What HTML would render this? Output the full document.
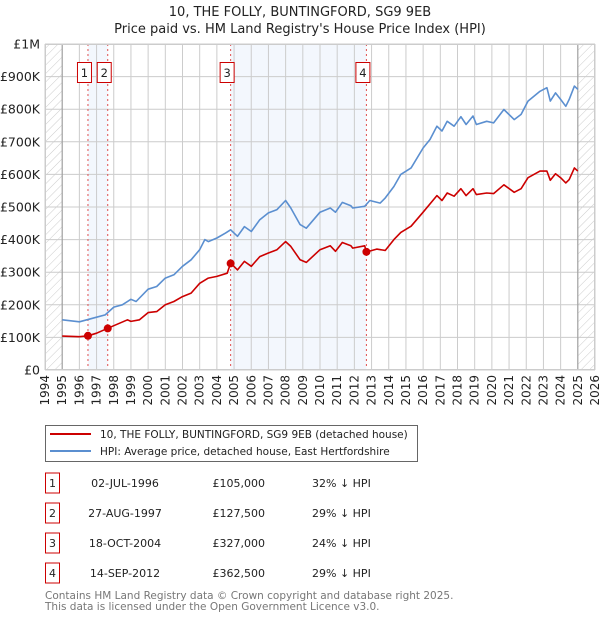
<!DOCTYPE html>
<html><head><meta charset="utf-8"><style>
body{margin:0;background:#fff;font-family:"Liberation Sans","DejaVu Sans",sans-serif;}
</style></head><body>
<svg id="c" width="600" height="620" xmlns="http://www.w3.org/2000/svg" font-family="DejaVu Sans, Liberation Sans, sans-serif">
<defs><pattern id="hatch" width="6" height="6" patternUnits="userSpaceOnUse" patternTransform="rotate(45)"><line x1="0" y1="0" x2="0" y2="6" stroke="#ccc" stroke-width="1"/></pattern></defs>
<text x="300" y="16" text-anchor="middle" font-size="13" fill="#222">10, THE FOLLY, BUNTINGFORD, SG9 9EB</text>
<text x="300" y="33" text-anchor="middle" font-size="13" fill="#222">Price paid vs. HM Land Registry's House Price Index (HPI)</text>
<g id="plot"></g>
<g>
<rect x="45.5" y="425.5" width="372" height="36" fill="#fff" stroke="#666"/>
<line x1="50" y1="434" x2="91" y2="434" stroke="#cc0000" stroke-width="2"/>
<text x="100" y="438" font-size="10.5" fill="#222">10, THE FOLLY, BUNTINGFORD, SG9 9EB (detached house)</text>
<line x1="50" y1="451" x2="91" y2="451" stroke="#5b8fd0" stroke-width="2"/>
<text x="100" y="455" font-size="10.5" fill="#222">HPI: Average price, detached house, East Hertfordshire</text>
</g>
<g id="table" font-size="11" fill="#222"></g>
<text x="45" y="599" font-size="10.5" fill="#777">Contains HM Land Registry data © Crown copyright and database right 2025.</text>
<text x="45" y="610" font-size="10.5" fill="#777">This data is licensed under the Open Government Licence v3.0.</text>
</svg>
<script>
const hpiYears=[1995,1996,1997,1997.5,1998,1998.5,1999,1999.3,2000,2000.5,2001,2001.5,2002,2002.5,2003,2003.3,2003.5,2004,2004.5,2004.8,2005.2,2005.6,2006,2006.5,2007,2007.5,2008,2008.3,2008.84,2009.2,2010,2010.6,2010.9,2011.3,2011.8,2011.9,2012.6,2012.9,2013.5,2013.8,2014.3,2014.7,2015.3,2016,2016.4,2016.8,2017.1,2017.4,2017.8,2018.2,2018.5,2018.9,2019.1,2019.7,2020.1,2020.7,2021.3,2021.7,2022.1,2022.8,2023.2,2023.4,2023.7,2024,2024.3,2024.5,2024.8,2025];
const hpiValues=[154,148,162,169,193,200,217,210,248,256,282,292,318,338,369,400,394,405,420,430,410,440,425,461,482,492,520,497,446,435,484,497,484,514,504,497,502,520,512,528,563,600,620,681,707,748,733,763,748,777,753,779,753,763,758,799,768,784,825,855,866,825,850,830,809,830,871,861];
const propYears=[1995,1996,1996.5,1997,1997.65,1998,1998.8,1999,1999.5,2000,2000.5,2001,2001.5,2002,2002.5,2003,2003.5,2004,2004.6,2004.8,2005.2,2005.6,2006,2006.5,2007,2007.5,2008,2008.3,2008.84,2009.2,2010,2010.6,2010.9,2011.3,2011.8,2011.9,2012.6,2012.7,2013.3,2013.8,2014.3,2014.7,2015.3,2016,2016.8,2017.1,2017.4,2017.8,2018.2,2018.5,2018.9,2019.1,2019.7,2020.1,2020.7,2021.3,2021.7,2022.1,2022.8,2023.2,2023.4,2023.7,2024,2024.3,2024.5,2024.8,2025];
const propValues=[104,102,105,113,128,136,154,149,154,176,179,200,210,225,236,266,282,287,297,328,307,333,318,348,359,369,394,379,338,330,369,381,364,391,381,374,381,362,371,367,400,422,441,484,535,520,543,533,556,535,556,538,543,541,568,545,556,590,610,610,582,602,590,574,584,620,610];
const saleLabels=["1","2","3","4"];
const saleYears=[1996.5,1997.65,2004.8,2012.7];
const saleValues=[105,127.5,327,362.5];
const saleDates=["02-JUL-1996","27-AUG-1997","18-OCT-2004","14-SEP-2012"];
const salePrices=["£105,000","£127,500","£327,000","£362,500"];
const saleDiffs=["32% ↓ HPI","29% ↓ HPI","24% ↓ HPI","29% ↓ HPI"];
const yTicks=[0,100,200,300,400,500,600,700,800,900,1000];
const yTickLabels=["£0","£100K","£200K","£300K","£400K","£500K","£600K","£700K","£800K","£900K","£1M"];
const x0=45,x1=595,y0=370,y1=44,yr0=1994,yr1=2026;
const X=y=>x0+(y-yr0)/(yr1-yr0)*(x1-x0);
const Y=v=>y0-v/1000*(y0-y1);
const NS="http://www.w3.org/2000/svg";
const plot=document.getElementById('plot');
function mk(tag,attrs,parent){const e=document.createElementNS(NS,tag);for(const k in attrs)e.setAttribute(k,attrs[k]);(parent||plot).appendChild(e);return e;}
mk('rect',{x:x0,y:y1,width:x1-x0,height:y0-y1,fill:'#fff'});
let s=mk('rect',{x:X(saleYears[0]),y:y1,width:X(saleYears[1])-X(saleYears[0]),height:y0-y1,fill:'#eef3fc',opacity:0.7});


s=mk('rect',{x:X(saleYears[2]),y:y1,width:X(saleYears[3])-X(saleYears[2]),height:y0-y1,fill:'#eef3fc',opacity:0.7});


s=mk('rect',{x:x0,y:y1,width:X(1995)-x0,height:y0-y1,fill:'url(#hatch)'});


s=mk('rect',{x:X(2025),y:y1,width:x1-X(2025),height:y0-y1,fill:'url(#hatch)'});


for(let yr=yr0;yr<=yr1;yr++){
 const l=mk('line',{x1:X(yr),x2:X(yr),y1:y1,y2:y0,stroke:'#ccc','stroke-width':1});
 
 
 const t=mk('text',{x:0,y:0,'font-size':12,fill:'#222','text-anchor':'end',transform:`translate(${X(yr)+4},${y0+5}) rotate(-90)`});
 t.textContent=yr;
 
 
}
yTicks.forEach((v,i)=>{
 const l=mk('line',{x1:x0,x2:x1,y1:Y(v),y2:Y(v),stroke:'#ccc','stroke-width':1});
 
 
 const t=mk('text',{x:40,y:Y(v)+4.5,'font-size':12.5,fill:'#222','text-anchor':'end'});
 t.textContent=yTickLabels[i];
 
 
});
mk('line',{x1:X(1995),x2:X(1995),y1:y1,y2:y0,stroke:'#999','stroke-width':1});
mk('line',{x1:X(2025),x2:X(2025),y1:y1,y2:y0,stroke:'#999','stroke-width':1});
saleYears.forEach((yr,i)=>{
 const l=mk('line',{x1:X(yr),x2:X(yr),y1:y1,y2:y0,stroke:'#e05050','stroke-width':1,'stroke-dasharray':'2,3'});
 
 
 const g=mk('g',{});
 
 
 mk('rect',{x:X(yr)-3.5-7,y:62.5,width:14,height:20,fill:'#fff',stroke:'#cc0000'},g);
 const t=mk('text',{x:X(yr)-3.5,y:77,'font-size':11.5,fill:'#222','text-anchor':'middle'},g);
 t.textContent=saleLabels[i];
});
function line(xs,vs,col,name){
 const p=mk('path',{d:xs.map((yr,i)=>(i?'L':'M')+X(yr).toFixed(1)+','+Y(vs[i]).toFixed(1)).join(''),fill:'none',stroke:col,'stroke-width':1.6,'stroke-linejoin':'round'});
 
 
}
line(hpiYears,hpiValues,'#5b8fd0','hpi-line');
line(propYears,propValues,'#cc0000','property-line');
saleYears.forEach((yr,i)=>{
 const c=mk('circle',{cx:X(yr),cy:Y(saleValues[i]),r:4,fill:'#cc0000'});
 
 
});
mk('rect',{x:x0+0.5,y:y1+0.5,width:x1-x0-1,height:y0-y1-1,fill:'none',stroke:'#ccc'});
const tb=document.getElementById('table');
saleLabels.forEach((lb,i)=>{
 const cy=483+i*30;
 const g=mk('g',{},tb);
 
 
 mk('rect',{x:45.5,y:cy-10,width:14,height:20,fill:'#fff',stroke:'#cc0000'},g);
 let t=mk('text',{x:52.5,y:cy+4,'text-anchor':'middle'},g);t.textContent=lb;
 t=mk('text',{x:125,y:cy+4,'text-anchor':'middle'},g);t.textContent=saleDates[i];
 t=mk('text',{x:265,y:cy+4,'text-anchor':'end'},g);t.textContent=salePrices[i];
 t=mk('text',{x:312,y:cy+4},g);t.textContent=saleDiffs[i];
});
</script>
</body></html>
